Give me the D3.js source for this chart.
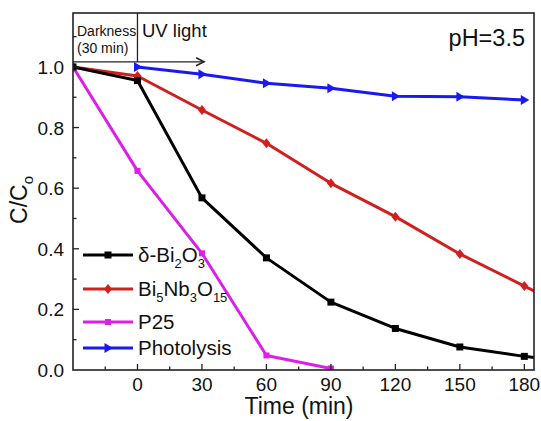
<!DOCTYPE html>
<html><head><meta charset="utf-8">
<script src="https://cdn.jsdelivr.net/npm/d3@7/dist/d3.min.js"></script>
<style>body{margin:0;background:#fff}svg{display:block}text{font-family:"Liberation Sans",Arial,sans-serif;fill:#111}</style>
</head><body><svg id="c" width="541" height="421"></svg>
<script>
// ---- data ----
const timesFull = [-30, 0, 30, 60, 90, 120, 150, 180, 210];
const bi2o3 = [1.0, 0.955, 0.568, 0.37, 0.224, 0.137, 0.076, 0.045, 0.02];
const bi5nb3o15 = [1.0, 0.97, 0.858, 0.748, 0.616, 0.506, 0.383, 0.277, 0.17];
const timesP25 = [-30, 0, 30, 60, 90];
const p25 = [1.0, 0.657, 0.385, 0.048, 0.005];
const timesPhoto = [0, 30, 60, 90, 120, 150, 180];
const photolysis = [1.0, 0.976, 0.946, 0.93, 0.903, 0.902, 0.891];
const xTicks = [0, 30, 60, 90, 120, 150, 180];
const yTicks = [0.0, 0.2, 0.4, 0.6, 0.8, 1.0];
const seriesNames = ["δ-Bi2O3", "Bi5Nb3O15", "P25", "Photolysis"];

const svg = d3.select("#c");
const L = 73, R = 534, T = 13, B = 370;
const x = d3.scaleLinear().domain([-30, 184.5]).range([L, R]);
const y = d3.scaleLinear().domain([0, 1.178]).range([B, T]);

svg.append("defs").append("clipPath").attr("id", "clip")
  .append("rect").attr("x", L).attr("y", T).attr("width", R - L).attr("height", B - T);

const series = [
  {t: timesFull, v: bi2o3, color: "#000000", marker: "square", ms: 7},
  {t: timesFull, v: bi5nb3o15, color: "#d11f1f", marker: "diamond", ms: 10},
  {t: timesP25, v: p25, color: "#dd1ee8", marker: "square", ms: 6},
  {t: timesPhoto, v: photolysis, color: "#1a1af0", marker: "tri", ms: 10}
];

function markerPath(type, s) {
  const h = s / 2;
  if (type === "square") return `M${-h},${-h}H${h}V${h}H${-h}Z`;
  if (type === "diamond") return `M0,${-h}L${h * 0.8},0L0,${h}L${-h * 0.8},0Z`;
  return `M${-h * 0.7},${-h}L${h},0L${-h * 0.7},${h}Z`;
}

const plot = svg.append("g").attr("clip-path", "url(#clip)");
const line = d3.line().x(d => x(d[0])).y(d => y(d[1]));
[3, 2, 1, 0].forEach(i => {
  const s = series[i];
  const pts = s.t.map((t, j) => [t, s.v[j]]);
  plot.append("path").attr("d", line(pts)).attr("fill", "none")
    .attr("stroke", s.color).attr("stroke-width", 3).attr("stroke-linejoin", "round");
  plot.selectAll(null).data(pts).enter().append("path")
    .attr("transform", d => `translate(${x(d[0])},${y(d[1])})`)
    .attr("d", markerPath(s.marker, s.ms)).attr("fill", s.color);
});

// frame
svg.append("rect").attr("x", L).attr("y", T).attr("width", R - L).attr("height", B - T)
  .attr("fill", "none").attr("stroke", "#222").attr("stroke-width", 1.6);

// x ticks (inward)
const xMinor = d3.range(-15, 185, 15);
svg.selectAll(null).data(xMinor).enter().append("line")
  .attr("x1", d => x(d)).attr("x2", d => x(d))
  .attr("y1", B).attr("y2", d => B - (d % 30 === 0 ? 6 : 3.5))
  .attr("stroke", "#222").attr("stroke-width", 1.3);
svg.selectAll(null).data(xTicks).enter().append("text")
  .attr("x", d => x(d)).attr("y", 391).attr("text-anchor", "middle")
  .attr("font-size", 19).text(d => d);

// y ticks (inward)
const yMinor = d3.range(0.1, 1.15, 0.1);
svg.selectAll(null).data(yMinor).enter().append("line")
  .attr("x1", L).attr("x2", d => L + (Math.round(d * 10) % 2 === 0 ? 6 : 3.5))
  .attr("y1", d => y(d)).attr("y2", d => y(d))
  .attr("stroke", "#222").attr("stroke-width", 1.3);
svg.selectAll(null).data(yTicks).enter().append("text")
  .attr("x", 64).attr("y", d => y(d) + 7).attr("text-anchor", "end")
  .attr("font-size", 19).text(d => d.toFixed(1));

// axis titles
svg.append("text").attr("x", 299).attr("y", 414).attr("text-anchor", "middle")
  .attr("font-size", 23).text("Time (min)");
const yl = svg.append("text").attr("transform", "translate(27,200) rotate(-90)")
  .attr("text-anchor", "middle").attr("font-size", 23);
yl.append("tspan").text("C/C");
yl.append("tspan").attr("font-size", 15).attr("dy", 6).text("o");

// darkness / UV annotation
const ay = y(1.017);
svg.append("line").attr("x1", x(0)).attr("x2", x(0)).attr("y1", T).attr("y2", ay)
  .attr("stroke", "#222").attr("stroke-width", 1.3);
svg.append("line").attr("x1", L).attr("x2", x(31)).attr("y1", ay).attr("y2", ay)
  .attr("stroke", "#222").attr("stroke-width", 1.3);
svg.append("path").attr("d", `M${x(31) - 8},${ay - 4}L${x(31)},${ay}L${x(31) - 8},${ay + 4}`)
  .attr("fill", "none").attr("stroke", "#222").attr("stroke-width", 1.5);
svg.append("text").attr("x", 77).attr("y", 36).attr("font-size", 14).text("Darkness");
svg.append("text").attr("x", 77).attr("y", 53).attr("font-size", 14).text("(30 min)");
svg.append("text").attr("x", 142).attr("y", 37).attr("font-size", 18.5).text("UV light");
svg.append("text").attr("x", 525).attr("y", 46).attr("text-anchor", "end")
  .attr("font-size", 23.5).text("pH=3.5");

// legend
const legY = [255, 289, 322, 348];
const leg = svg.append("g");
series.forEach((s, i) => {
  const g = leg.append("g").attr("transform", `translate(0,${legY[i]})`);
  g.append("line").attr("x1", 83).attr("x2", 133).attr("y1", 0).attr("y2", 0)
    .attr("stroke", s.color).attr("stroke-width", 3);
  g.append("path").attr("transform", "translate(108,0)").attr("d", markerPath(s.marker, s.ms)).attr("fill", s.color);
  const t = g.append("text").attr("x", 138).attr("y", 7).attr("font-size", 20.5);
  const name = seriesNames[i];
  const parts = name.match(/[^0-9]+|[0-9]+/g);
  let sub = false;
  parts.forEach(p => {
    const isNum = /^[0-9]+$/.test(p) && i !== 2;
    const ts = t.append("tspan").text(p);
    if (isNum && !sub) { ts.attr("font-size", 13).attr("dy", 6); sub = true; }
    else if (!isNum && sub) { ts.attr("dy", -6); sub = false; }
  });
});
</script></body></html>
